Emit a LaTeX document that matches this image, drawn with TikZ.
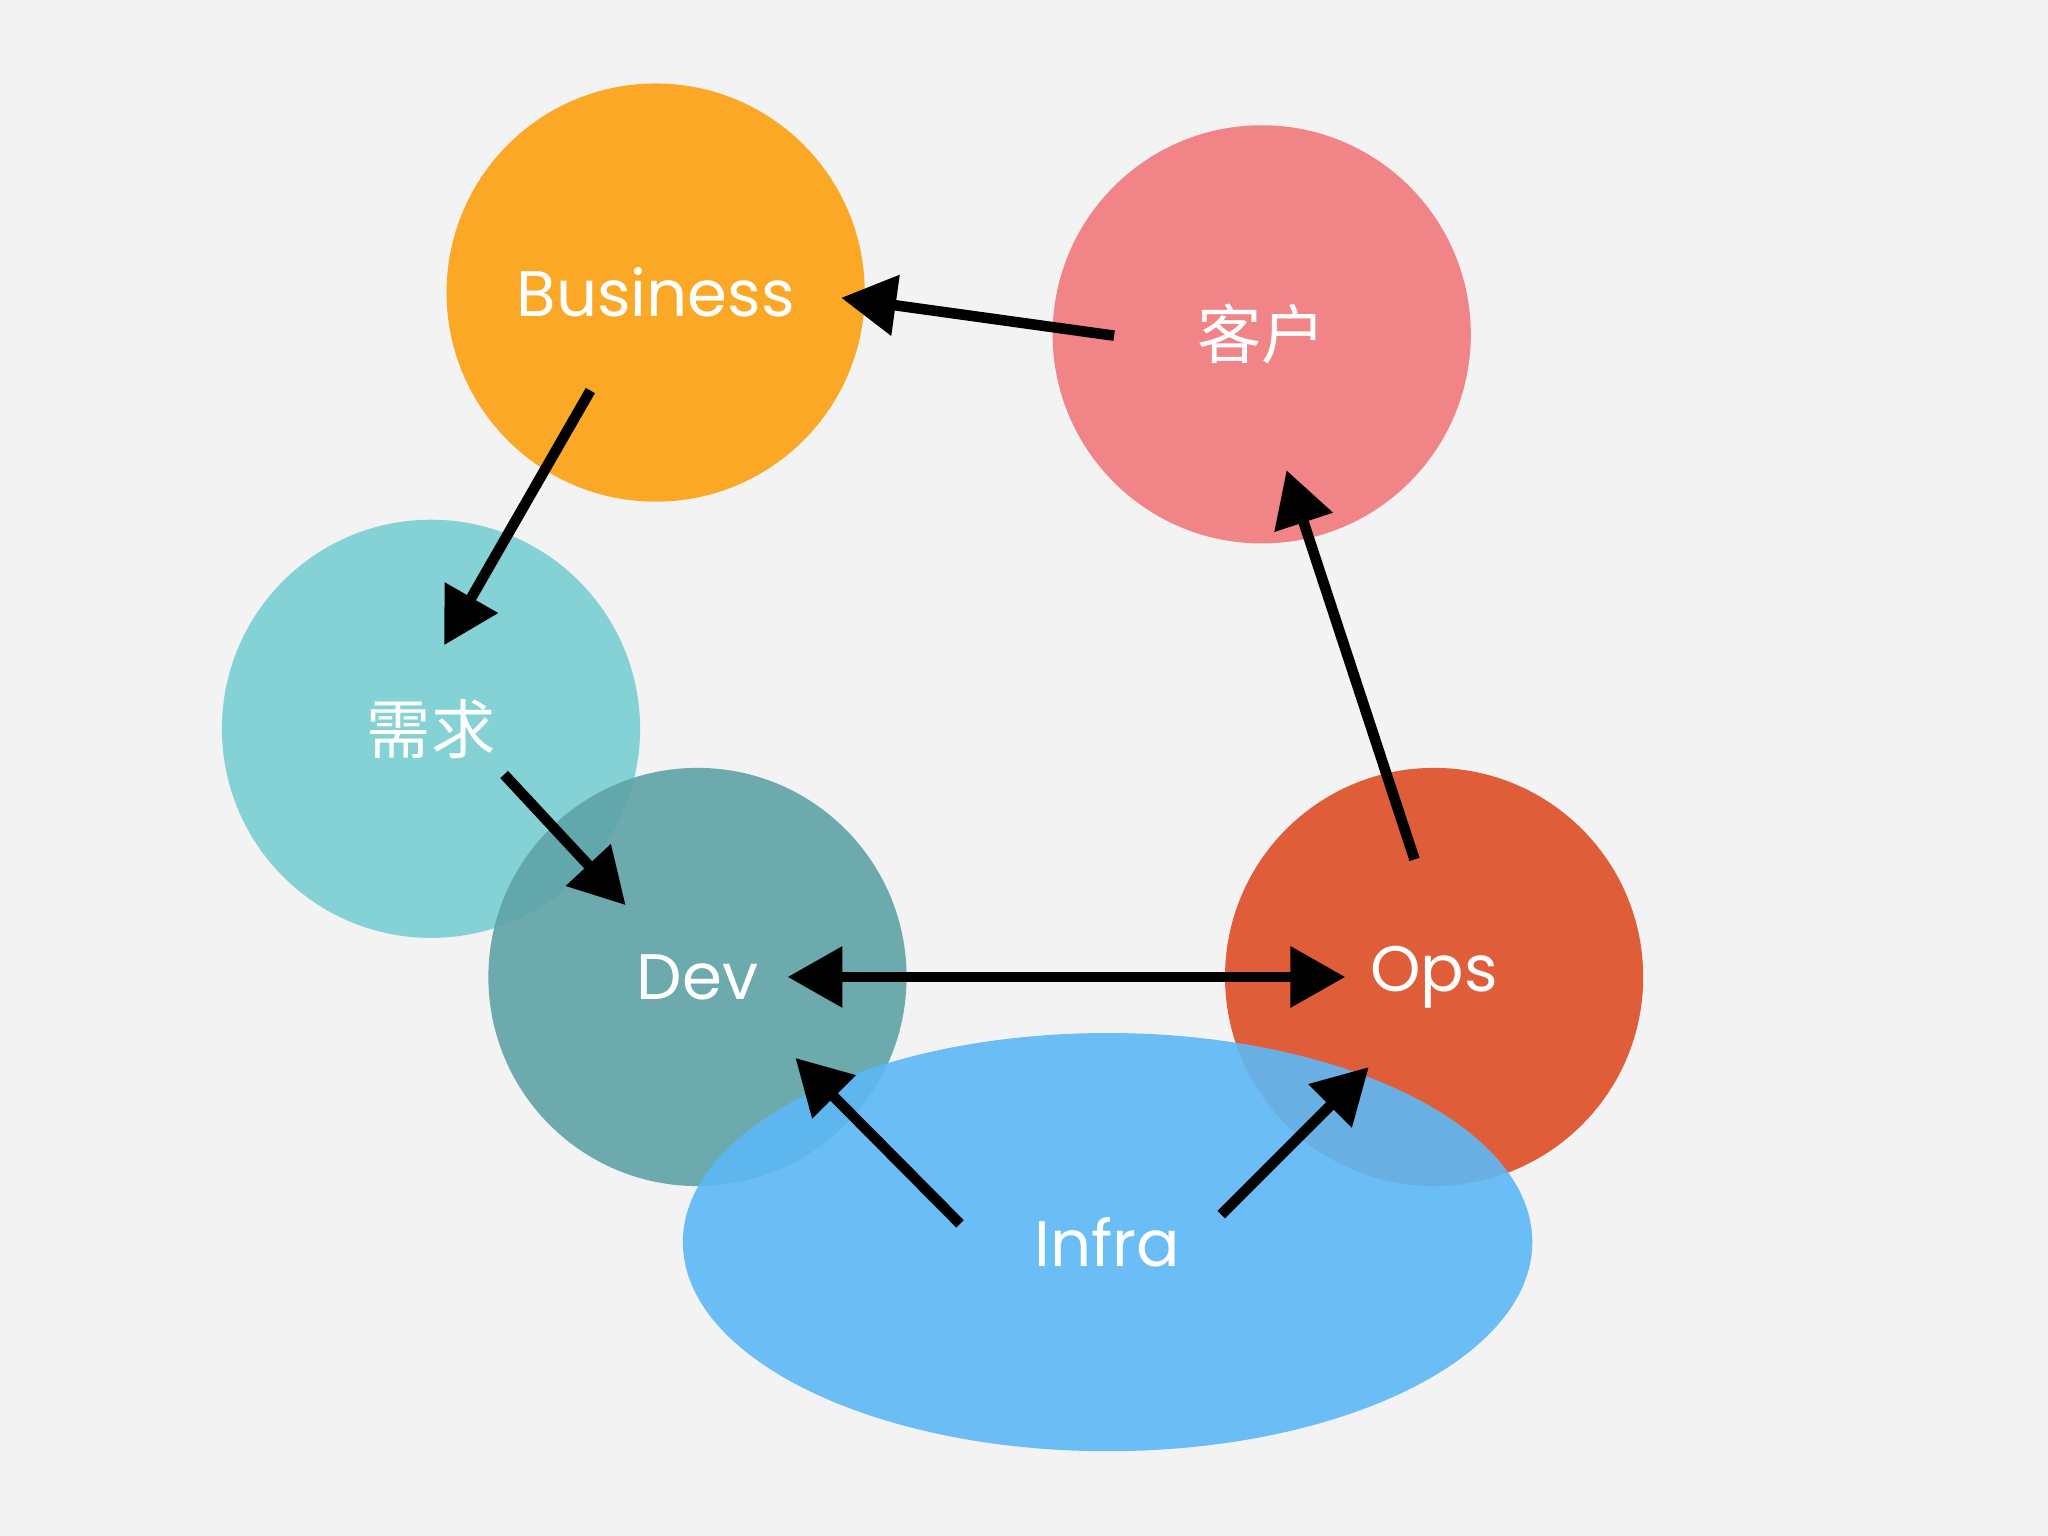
\documentclass[tikz,border=0pt]{standalone}
\usepackage{fontspec}
\setmainfont{Poppins}
\newfontfamily\cjk{Noto Sans CJK SC}
\usetikzlibrary{arrows.meta,shapes.geometric}
\definecolor{bg}{HTML}{F3F3F3}
\definecolor{cbus}{HTML}{FBA826}
\definecolor{ccus}{HTML}{F08486}
\definecolor{creq}{HTML}{7FD0D5}
\definecolor{cdev}{HTML}{5FA3A7}
\definecolor{cops}{HTML}{E05D3A}
\definecolor{cinf}{HTML}{5DB8F6}
\begin{document}
\begin{tikzpicture}[x=0.01cm,y=-0.01cm,
  blob/.style={circle,minimum size=3.2cm,inner sep=0pt,text=white,font=\fontsize{14}{16}\selectfont},
  arr/.style={line width=2.3pt,-{Triangle[length=0.42cm,width=0.45cm]}},
  darr/.style={line width=2.3pt,{Triangle[length=0.42cm,width=0.45cm]}-{Triangle[length=0.42cm,width=0.45cm]}}]
\fill[bg] (0,0) rectangle (1568,1176);
\node[blob,fill=cbus] (bus) at (502,224) {Business};
\node[blob,fill=ccus] (cus) at (966,256) {\cjk 客户};
\node[blob,fill=creq,fill opacity=0.95,text opacity=1] (req) at (330,558) {\cjk 需求};
\node[blob,fill=cdev,fill opacity=0.9,text opacity=1] (dev) at (534,748) {};
\node[blob,fill=cops] (ops) at (1098,748) {};
\node[ellipse,minimum width=6.5cm,minimum height=3.2cm,fill=cinf,fill opacity=0.9,text opacity=1,text=white,inner sep=0pt,font=\fontsize{14}{16}\selectfont] (inf) at (848,951) {};
\node[text=white,font=\fontsize{14}{16}\selectfont] (devt) at (534,748) {Dev};
\node[text=white,font=\fontsize{14}{16}\selectfont] (opst) at (1098,748) {Ops};
\node[text=white,font=\fontsize{14}{16}\selectfont] (inft) at (848,951) {Infra};
\coordinate (a1) at (452,299); \coordinate (b1) at (340,494);
\coordinate (a2) at (853,257); \coordinate (b2) at (644,228);
\coordinate (a3) at (1083,658); \coordinate (b3) at (985,360);
\coordinate (a4) at (386,593); \coordinate (b4) at (479,693);
\coordinate (a5) at (603,748); \coordinate (b5) at (1030,748);
\coordinate (a6) at (735,937); \coordinate (b6) at (609,810);
\coordinate (a7) at (935,930); \coordinate (b7) at (1048,817);
\draw[arr] (a1) -- (b1);
\draw[arr] (a2) -- (b2);
\draw[arr] (a3) -- (b3);
\draw[arr] (a4) -- (b4);
\draw[darr] (a5) -- (b5);
\draw[arr] (a6) -- (b6);
\draw[arr] (a7) -- (b7);
\end{tikzpicture}
\end{document}
